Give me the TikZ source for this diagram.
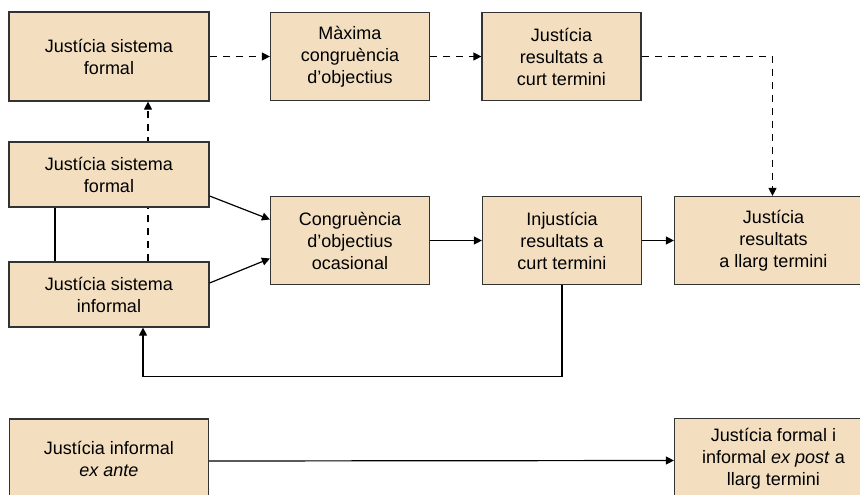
\documentclass[tikz,border=0pt]{standalone}
\usepackage{fontspec}
\setmainfont{Liberation Sans}
\usetikzlibrary{arrows.meta,positioning,backgrounds}
\definecolor{boxfill}{RGB}{243,223,192}
\tikzset{
     sbox/.style={draw=black!80, fill=boxfill, line width=1.2pt, align=center,
       inner sep=0pt, font=\fontsize{18}{22}\selectfont},
     wide box/.style={sbox, minimum width=200pt, minimum height=89pt},
     mid box/.style={sbox, minimum width=159pt, minimum height=88pt},
     flat box/.style={sbox, minimum width=200pt, minimum height=65pt},
     end box/.style={sbox, minimum width=198pt, minimum height=88pt},
     low box/.style={sbox, minimum width=199pt, minimum height=80pt},
      flow/.style   = {black, line width=1.2pt, ->, >={Triangle[length=8pt,width=8pt]}},
      hint/.style = {flow, dash pattern=on 7pt off 6pt},
      link/.style = {black, line width=1.2pt},
    }

\begin{document}
\begin{tikzpicture}[x=1pt,y=-1pt,node distance=200pt,on grid]
        \path[use as bounding box, clip] (0,0) rectangle (860,495);
        \node [wide box] (formal)  at (109,56.5) {Justícia sistema\\formal};
        \node [mid box] (maxima) [right=241pt of formal] {Màxima\\congruència\\d’objectius};
        \node [mid box] (curt) [right=211.5pt of maxima] {Justícia\\resultats a\\curt termini};
        \node [flat box] (sform) [below=118pt of formal] {Justícia sistema\\formal};
        \node [flat box] (sinf) [below=120pt of sform] {Justícia sistema\\informal};
        \node [mid box] (ocas) [below=184pt of maxima] {Congruència\\d’objectius\\ocasional};
        \node [mid box] (injust) [right=212pt of ocas] {Injustícia\\resultats a\\curt termini};
        \node [end box] (llarg) [right=211.5pt of injust] {Justícia\\resultats\\a llarg termini};
        \node [low box] (exante) [below=164.5pt of sinf] {Justícia informal\\\textit{ex ante}};
        \node [end box, minimum height=80pt] (expost) [below=218pt of llarg] {Justícia formal i\\informal \textit{ex post} a\\llarg termini};
        \begin{scope}[on background layer]
          \draw[hint] ([xshift=39pt]sinf.north) -- ([xshift=39pt]sinf.north |- formal.south);
        \end{scope}
        \draw[hint] (formal) -- (maxima);
        \draw[hint] (maxima) -- (curt);
        \draw[hint] (curt.east) -| ([xshift=-1pt]llarg.north);
        \draw[link] ([xshift=-54pt]sform.south) -- ([xshift=-54pt]sinf.north);
        \draw[flow] ([yshift=-21.5pt]sform.east) -- ([yshift=21pt]ocas.west);
        \draw[flow] ([yshift=11.5pt]sinf.east) -- ([yshift=-18pt]ocas.west);
        \draw[flow] (ocas) -- (injust);
        \draw[flow] (injust) -- (llarg);
        \draw[flow] (injust.south) -- ++(0,91) -| ([xshift=34pt]sinf.south);
        \draw[flow] ([yshift=-2pt]exante.east) -- ([yshift=-2pt]expost.west);
    \end{tikzpicture}
\end{document}
